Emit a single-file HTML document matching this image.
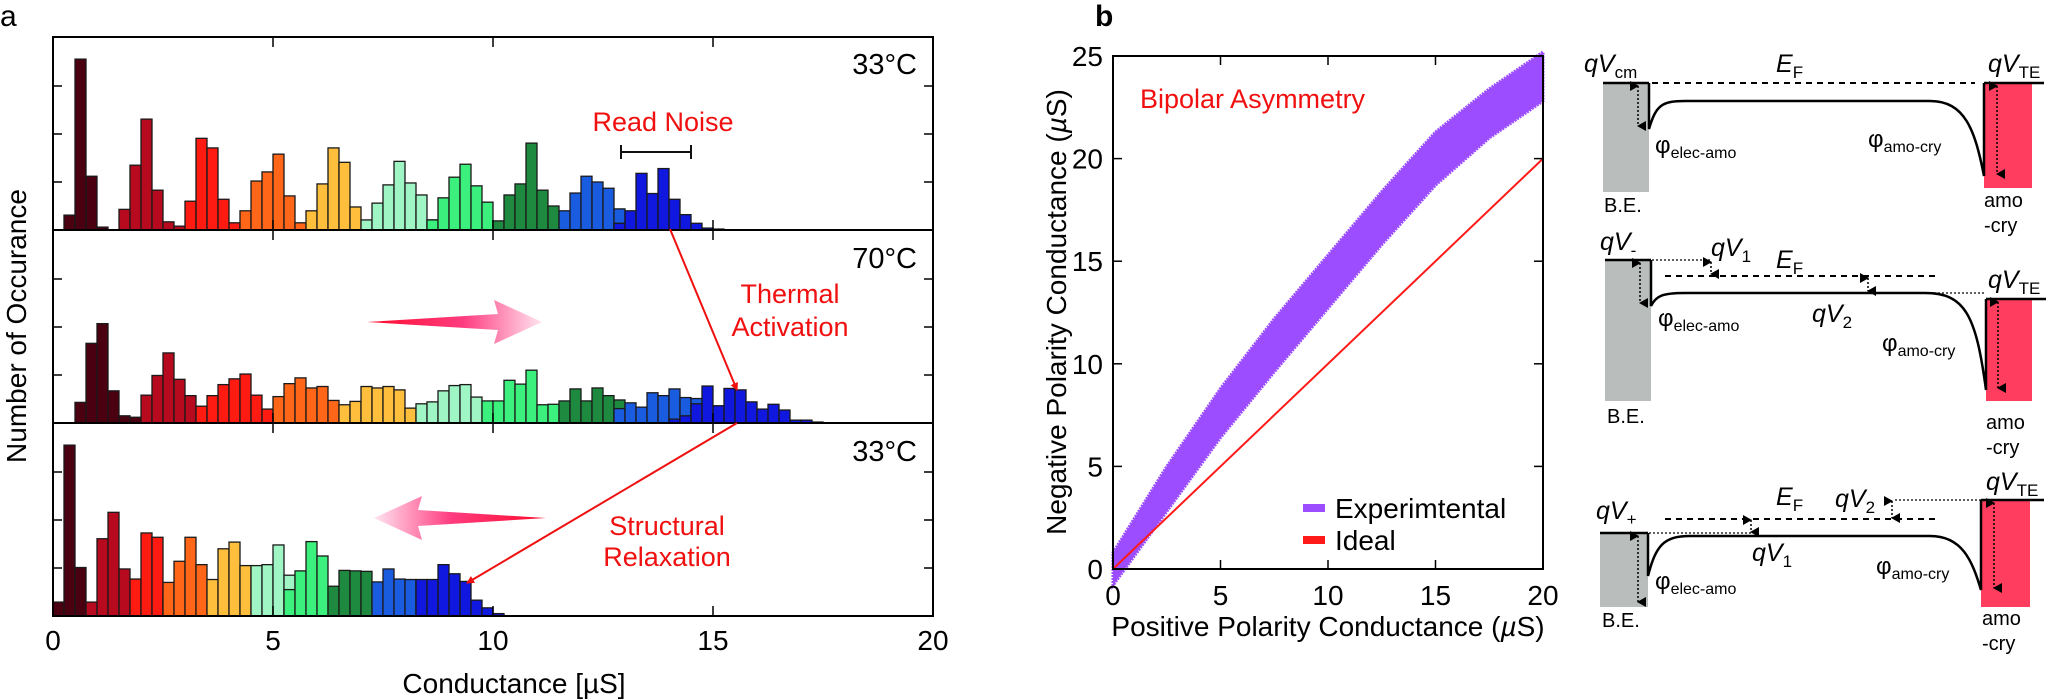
<!DOCTYPE html>
<html><head><meta charset="utf-8"><style>
html,body{margin:0;padding:0;background:#fff;}
svg{display:block;font-family:"Liberation Sans",Arial,sans-serif;}
</style></head><body>
<svg id="fig" width="2048" height="700" viewBox="0 0 2048 700" xmlns="http://www.w3.org/2000/svg">
<defs>
<linearGradient id="gR" x1="0" x2="1" y1="0" y2="0"><stop offset="0" stop-color="#ff0a2a"/><stop offset="0.55" stop-color="#ff3c80"/><stop offset="1" stop-color="#ffe4f0"/></linearGradient>
<linearGradient id="gL" x1="0" x2="1" y1="0" y2="0"><stop offset="0" stop-color="#ffe4f0"/><stop offset="0.45" stop-color="#ff3c80"/><stop offset="1" stop-color="#ff0a2a"/></linearGradient>
<marker id="ah" markerWidth="8" markerHeight="8" refX="7" refY="4" orient="auto" markerUnits="userSpaceOnUse"><path d="M0,0 L8,4 L0,8 z" fill="#f01010"/></marker>
<marker id="da" markerWidth="10" markerHeight="10" refX="5" refY="9" orient="auto-start-reverse" markerUnits="userSpaceOnUse"><path d="M0,9 L5,0 L10,9 z" transform="rotate(180 5 5)" fill="#000"/></marker>
</defs>
<text x="0" y="26" font-size="30">a</text>
<text x="1095" y="26" font-size="30" font-weight="bold">b</text>
<g id="histA"></g>
<g id="scatB"></g>
<g id="diag"></g>
</svg>
<script>
// ---------- Panel a data ----------
const levelColors = ["#4a0010","#b80a1e","#ff1a12","#ff6618","#ffbf3c","#9ff5c3","#3cf07e","#1e8a40","#1a5ce0","#1018e0"];
const binWidth = 0.25;
const xTicksA = [0,5,10,15,20];
const yTicksA = [100,200,300];
const panelLabels = ["33°C","70°C","33°C"];
const topStarts = [1,6,12,17,23,28,34,40,46,51];
const topCounts = [[31,356,112,6],[43,135,231,83,17,8],[60,191,171,64,15,8],[40,102,121,158,71,15],[40,96,171,141,48],[21,56,94,143,98,73,21],[21,67,110,137,92,58],[19,73,96,181,83,50],[40,77,112,100,87,44],[14,40,118,76,128,64,32,14,4,2]];
const midStarts = [2,8,13,20,26,33,39,46,51,56];
const midCounts = [[43,166,207,67,15,12],[58,99,146,91,57],[35,57,80,92,102,58,29],[55,82,94,73,76,47],[38,45,76,73,76,69,31],[40,44,67,78,80,54],[46,46,89,81,110,38,39],[46,71,46,73,57,48],[30,42,33,63,57,71,53,51],[8,15,40,77,36,72,69,44,29,39,27,6,6,2]];
const botStarts = [0,3,7,10,14,18,21,25,29,33];
const botCounts = [[29,356,101],[29,161,216,98],[77,173,164,40],[70,114,164,107],[76,140,154,105],[105,107,148,85],[55,94,155,125],[62,95,94,93],[71,98,77,76,74],[76,76,107,88,72,33,17,5]];
// ---------- Panel b data ----------
const bX = [0,2.5,5,7.5,10,12.5,15,17.5,20];
const bY = [0,3.9,7.6,10.9,14.0,17.1,20.0,22.2,24.0];
const bHalf = [0.8,1.1,1.2,1.3,1.3,1.3,1.3,1.2,1.2];
const idealX = [0,20];
const idealY = [0,20];
const bXTicks = [0,5,10,15,20];
const bYTicks = [0,5,10,15,20,25];

const NS="http://www.w3.org/2000/svg";
function mk(parent,tag,attrs,txt){const e=document.createElementNS(NS,tag);for(const k in attrs)e.setAttribute(k,attrs[k]);if(txt!==undefined)e.textContent=txt;parent.appendChild(e);return e;}

// ---------- Panel a ----------
const A=document.getElementById('histA');
const ax0=53, axPx=44, subH=193, yPx=0.48;
const subTops=[37,230,423];
function xA(v){return ax0+axPx*v;}
const allStarts=[topStarts,midStarts,botStarts], allCounts=[topCounts,midCounts,botCounts];
for(let p=0;p<3;p++){
  const base=subTops[p]+subH;
  const yA=c=>base-c*yPx;
  for(let l=0;l<allCounts[p].length;l++){
    allCounts[p][l].forEach((c,i)=>{
      const k=allStarts[p][l]+i;
      const r=mk(A,'rect',{x:xA(k*binWidth),y:yA(c),width:axPx*binWidth,height:c*yPx,fill:levelColors[l],stroke:'#1a1a1a','stroke-width':1.3});
      
      
    });
  }
  const fr=mk(A,'rect',{x:ax0,y:subTops[p],width:xA(20)-ax0,height:subH,fill:'none',stroke:'#000','stroke-width':2});
  
  
  yTicksA.forEach(t=>{
    mk(A,'line',{x1:ax0,x2:ax0+9,y1:yA(t),y2:yA(t),stroke:'#000','stroke-width':1.5});
    mk(A,'line',{x1:xA(20),x2:xA(20)-9,y1:yA(t),y2:yA(t),stroke:'#000','stroke-width':1.5});
  });
  xTicksA.forEach(t=>{
    mk(A,'line',{x1:xA(t),x2:xA(t),y1:subTops[p],y2:subTops[p]+10,stroke:'#000','stroke-width':1.5});
    mk(A,'line',{x1:xA(t),x2:xA(t),y1:base,y2:base-10,stroke:'#000','stroke-width':1.5});
  });
  const tl=mk(A,'text',{x:917,y:[74,268,461][p],'font-size':29,'text-anchor':'end'},panelLabels[p]);
  
  
}
xTicksA.forEach(t=>{
  const e=mk(A,'text',{x:xA(t),y:650,'font-size':28,'text-anchor':'middle'},String(t));
  
  
});
</script>
<script>
(function(){
const A=document.getElementById('histA');
function t(x,y,s,txt,name,anchor,fill,extra){const e=document.createElementNS(NS,'text');e.setAttribute('x',x);e.setAttribute('y',y);e.setAttribute('font-size',s);e.setAttribute('text-anchor',anchor||'middle');e.setAttribute('fill',fill||'#000');if(extra)e.setAttribute('transform',extra);e.textContent=txt;A.appendChild(e);return e;}
t(514,693,28,'Conductance [µS]','x-axis-title');
t(26,326,28,'Number of Occurance','y-axis-title','middle','#000','rotate(-90 26 326)');
t(663,131,27,'Read Noise','read-noise-label','middle','#f01010');
t(790,303,27,'Thermal','thermal-activation-label','middle','#f01010');
t(790,336,27,'Activation','thermal-activation-label-2','middle','#f01010');
t(667,535,27,'Structural','structural-relaxation-label','middle','#f01010');
t(667,566,27,'Relaxation','structural-relaxation-label-2','middle','#f01010');
A.insertAdjacentHTML('beforeend',
`<g stroke="#111" stroke-width="2"><line x1="621" y1="152" x2="691" y2="152"/><line x1="621" y1="145" x2="621" y2="159"/><line x1="691" y1="145" x2="691" y2="159"/></g>
<line x1="670" y1="229" x2="737" y2="390" stroke="#f01010" stroke-width="2" marker-end="url(#ah)"/>
<line x1="737" y1="423" x2="467" y2="583" stroke="#f01010" stroke-width="2" marker-end="url(#ah)"/>
<path d="M367,322 L498,314 L494,300 L542,322 L494,344 L498,330 Z" fill="url(#gR)"/>
<path d="M546,518 L418,510 L422,496 L374,518 L422,540 L418,526 Z" fill="url(#gL)"/>`);

// ---------- Panel b ----------
const B=document.getElementById('scatB');
const bx0=1113, bxPx=21.5, by0=569, byPx=20.52;
const xB=v=>bx0+bxPx*v, yB=v=>by0-byPx*v;
let up=bX.map((x,i)=>xB(x)+','+yB(bY[i]+bHalf[i]));
let dn=bX.map((x,i)=>xB(x)+','+yB(bY[i]-bHalf[i])).reverse();
const band=document.createElementNS(NS,'polygon');
band.setAttribute('points',up.concat(dn).join(' '));
band.setAttribute('fill','#9b4dff');band.setAttribute('stroke','#9b4dff');band.setAttribute('stroke-width','3');band.setAttribute('stroke-dasharray','2 1');


B.appendChild(band);
const il=document.createElementNS(NS,'line');
il.setAttribute('x1',xB(idealX[0]));il.setAttribute('y1',yB(idealY[0]));il.setAttribute('x2',xB(idealX[1]));il.setAttribute('y2',yB(idealY[1]));
il.setAttribute('stroke','#ff1a1a');il.setAttribute('stroke-width','2');


B.appendChild(il);
B.insertAdjacentHTML('beforeend',`<rect x="${bx0}" y="${yB(25)}" width="${xB(20)-bx0}" height="${by0-yB(25)}" fill="none" stroke="#000" stroke-width="2"/>`);
bXTicks.forEach(v=>{
  B.insertAdjacentHTML('beforeend',`<line x1="${xB(v)}" x2="${xB(v)}" y1="${by0}" y2="${by0-9}" stroke="#000" stroke-width="1.5"/><line x1="${xB(v)}" x2="${xB(v)}" y1="${yB(25)}" y2="${yB(25)+9}" stroke="#000" stroke-width="1.5"/>`);
  const e=document.createElementNS(NS,'text');e.setAttribute('x',xB(v));e.setAttribute('y',605);e.setAttribute('font-size',28);e.setAttribute('text-anchor','middle');e.textContent=v;
  
  
  B.appendChild(e);
});
bYTicks.forEach(v=>{
  B.insertAdjacentHTML('beforeend',`<line x1="${bx0}" x2="${bx0+9}" y1="${yB(v)}" y2="${yB(v)}" stroke="#000" stroke-width="1.5"/><line x1="${xB(20)}" x2="${xB(20)-9}" y1="${yB(v)}" y2="${yB(v)}" stroke="#000" stroke-width="1.5"/>`);
  const e=document.createElementNS(NS,'text');e.setAttribute('x',bx0-10);e.setAttribute('y',yB(v)+10);e.setAttribute('font-size',28);e.setAttribute('text-anchor','end');e.textContent=v;
  
  
  B.appendChild(e);
});
B.insertAdjacentHTML('beforeend',`
<text x="1328" y="636" font-size="28" text-anchor="middle">Positive Polarity Conductance (<tspan font-style="italic">µ</tspan>S)</text>
<text x="1066" y="312" font-size="28" text-anchor="middle" transform="rotate(-90 1066 312)">Negative Polarity Conductance (<tspan font-style="italic">µ</tspan>S)</text>
<text x="1140" y="108" font-size="27" fill="#f01010">Bipolar Asymmetry</text>
<rect x="1303" y="504" width="22" height="8" fill="#9b4dff"/>
<text x="1335" y="518" font-size="28">Experimtental</text>
<rect x="1303" y="536" width="22" height="8" fill="#ff1a1a"/>
<text x="1335" y="550" font-size="28">Ideal</text>`);

// ---------- Energy band diagrams ----------
const D=document.getElementById('diag');
function qv(x,y,s,name){return `<text x="${x}" y="${y}" font-size="25"><tspan font-style="italic">qV</tspan><tspan font-size="17" dy="6">${s}</tspan></text>`;}
function phi(x,y,s,name){return `<text x="${x}" y="${y}" font-size="24">φ<tspan font-size="16" dy="5">${s}</tspan></text>`;}
function lbl(x,y,s,name){return `<text x="${x}" y="${y}" font-size="20">${s}</text>`;}
function darr(x,y1,y2){return `<line x1="${x}" y1="${y1}" x2="${x}" y2="${y2}" stroke="#000" stroke-width="1.5" stroke-dasharray="2 2" marker-start="url(#da)" marker-end="url(#da)"/>`;}
let h='';
h+=`<g>
<rect x="1603" y="83" width="46" height="109" fill="#b9bdbc"/>
<rect x="1984" y="83" width="48" height="105" fill="#ff3d5e"/>
<line x1="1603" y1="83" x2="1649" y2="83" stroke="#000" stroke-width="2.5"/>
<line x1="1984" y1="83" x2="2044" y2="83" stroke="#000" stroke-width="2.5"/>
<line x1="1652" y1="83" x2="1975" y2="83" stroke="#000" stroke-width="2" stroke-dasharray="6 5"/>
<path d="M1649,83 L1649,129 C1656,105 1662,101 1685,101 L1930,101 C1965,101 1975,130 1984,176 L1984,83" fill="none" stroke="#000" stroke-width="2.5"/>
${darr(1638,86,126)}${darr(1997,86,174)}
${qv(1584,72,'cm','qv-cm-label')}
<text x="1776" y="72" font-size="25"><tspan font-style="italic">E</tspan><tspan font-size="17" dy="6">F</tspan></text>
${qv(1988,72,'TE','qv-te-label')}
${phi(1655,153,'elec-amo','phi-elec-amo-label')}
${phi(1868,147,'amo-cry','phi-amo-cry-label')}
${lbl(1604,212,'B.E.','be-label')}${lbl(1984,207,'amo','amo-label')}${lbl(1984,232,'-cry','cry-label')}
</g>`;
h+=`<g>
<rect x="1605" y="260" width="46" height="141" fill="#b9bdbc"/>
<rect x="1986" y="299" width="46" height="102" fill="#ff3d5e"/>
<line x1="1605" y1="260" x2="1651" y2="260" stroke="#000" stroke-width="2.5"/>
<line x1="1986" y1="299" x2="2046" y2="299" stroke="#000" stroke-width="2.5"/>
<line x1="1652" y1="260" x2="1712" y2="260" stroke="#000" stroke-width="1.2" stroke-dasharray="2 2"/>
<line x1="1665" y1="276" x2="1940" y2="276" stroke="#000" stroke-width="2" stroke-dasharray="6 5"/>
<line x1="1870" y1="293" x2="1986" y2="293" stroke="#000" stroke-width="1.2" stroke-dasharray="2 2"/>
<path d="M1651,260 L1651,306 C1656,296 1662,293 1685,293 L1925,293 C1965,293 1976,315 1986,390 L1986,299" fill="none" stroke="#000" stroke-width="2.5"/>
${darr(1640,263,303)}${darr(1998,302,388)}${darr(1711,262,274)}${darr(1868,278,291)}
${qv(1600,250,'-','qv-minus-label')}
${qv(1711,256,'1','qv1-label')}
<text x="1776" y="268" font-size="25"><tspan font-style="italic">E</tspan><tspan font-size="17" dy="6">F</tspan></text>
${qv(1988,288,'TE','qv-te-label')}
${qv(1812,322,'2','qv2-label')}
${phi(1658,326,'elec-amo','phi-elec-amo-label')}
${phi(1882,351,'amo-cry','phi-amo-cry-label')}
${lbl(1607,423,'B.E.','be-label')}${lbl(1986,429,'amo','amo-label')}${lbl(1986,454,'-cry','cry-label')}
</g>`;
h+=`<g>
<rect x="1600" y="533" width="48" height="74" fill="#b9bdbc"/>
<rect x="1981" y="500" width="49" height="107" fill="#ff3d5e"/>
<line x1="1600" y1="533" x2="1648" y2="533" stroke="#000" stroke-width="2.5"/>
<line x1="1981" y1="500" x2="2044" y2="500" stroke="#000" stroke-width="2.5"/>
<line x1="1649" y1="533" x2="1751" y2="533" stroke="#000" stroke-width="1.2" stroke-dasharray="2 2"/>
<line x1="1665" y1="519" x2="1938" y2="519" stroke="#000" stroke-width="2" stroke-dasharray="6 5"/>
<line x1="1895" y1="500" x2="1981" y2="500" stroke="#000" stroke-width="1.2" stroke-dasharray="2 2"/>
<path d="M1648,533 L1648,576 C1656,545 1664,536 1690,536 L1930,536 C1962,536 1972,560 1981,590 L1981,500" fill="none" stroke="#000" stroke-width="2.5"/>
${darr(1638,536,602)}${darr(1994,503,588)}${darr(1751,520,532)}${darr(1892,501,518)}
${qv(1596,519,'+','qv-plus-label')}
<text x="1776" y="505" font-size="25"><tspan font-style="italic">E</tspan><tspan font-size="17" dy="6">F</tspan></text>
${qv(1835,507,'2','qv2-label')}
${qv(1986,490,'TE','qv-te-label')}
${qv(1752,561,'1','qv1-label')}
${phi(1655,589,'elec-amo','phi-elec-amo-label')}
${phi(1876,574,'amo-cry','phi-amo-cry-label')}
${lbl(1602,627,'B.E.','be-label')}${lbl(1982,625,'amo','amo-label')}${lbl(1982,650,'-cry','cry-label')}
</g>`;
D.insertAdjacentHTML('beforeend',h);
})();
</script>
</body></html>
